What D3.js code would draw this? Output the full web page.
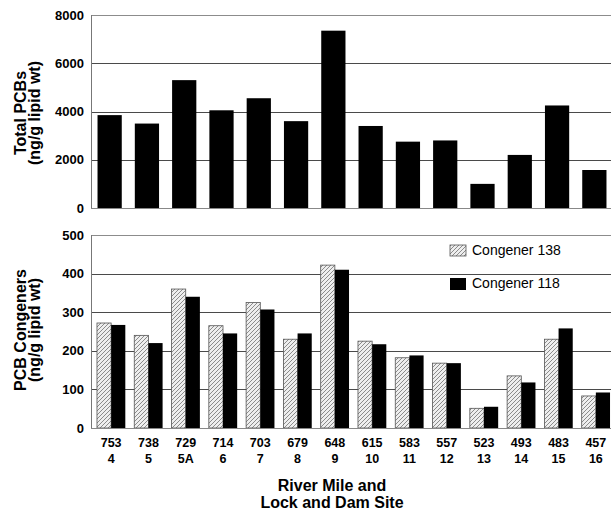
<!DOCTYPE html>
<html><head><meta charset="utf-8">
<script src="https://cdn.jsdelivr.net/npm/d3@7"></script>
<style>body{margin:0;background:#fff} svg{display:block} text{font-family:"Liberation Sans",Arial,sans-serif}</style>
</head><body>
<svg id="c" width="611" height="510"></svg>
<script>
const riverMiles = ["753","738","729","714","703","679","648","615","583","557","523","493","483","457"];
const lockDams = ["4","5","5A","6","7","8","9","10","11","12","13","14","15","16"];
const totalPCBs = [3850,3500,5300,4050,4550,3600,7350,3400,2750,2800,1000,2200,4250,1575];
const congener138 = [272,240,360,265,325,230,422,225,182,168,51,135,230,83];
const congener118 = [267,220,340,245,307,245,410,217,188,168,55,118,258,92];
const seriesNames = ["Congener 138","Congener 118"];
const topTicks = [0,2000,4000,6000,8000];
const bottomTicks = [0,100,200,300,400,500];

const svg = d3.select("#c");
const defs = svg.append("defs");
const pat = defs.append("pattern").attr("id","hatch").attr("patternUnits","userSpaceOnUse")
  .attr("width",4).attr("height",4);
pat.append("rect").attr("width",4).attr("height",4).attr("fill","#eeeeee");
pat.append("path").attr("d","M-1,1 l2,-2 M0,4 l4,-4 M3,5 l2,-2").attr("stroke","#808080").attr("stroke-width",0.9);

const idx = d3.range(riverMiles.length);
const left = 91, right = 613;
const xT = d3.scaleBand().domain(idx).range([left,right]).paddingInner(0.35).paddingOuter(0.175);
const xB = d3.scaleBand().domain(idx).range([left+1.5,right+1.5]).paddingInner(0.24).paddingOuter(0.12);
const xS = d3.scaleBand().domain([0,1]).range([0,xB.bandwidth()]);
const yT = d3.scaleLinear().domain([0,8000]).range([208,15]);
const yB = d3.scaleLinear().domain([0,500]).range([428,235]);

function panel(y, ticks){
  const g = svg.append("g");
  g.selectAll("line.grid").data(ticks.slice(1)).join("line")
    .attr("x1",left).attr("x2",611).attr("y1",d=>Math.round(y(d))+0.5).attr("y2",d=>Math.round(y(d))+0.5)
    .attr("stroke",(d,i)=> i===ticks.length-2 ? "#8c8c8c" : "#4a4a4a").attr("stroke-width",1);
  const ax = svg.append("g").attr("transform",`translate(${left},0)`)
    .call(d3.axisLeft(y).tickValues(ticks).tickSize(0).tickPadding(7).tickFormat(d3.format("d")));
  ax.select(".domain").remove();
  ax.selectAll("text").attr("font-size",13).attr("font-weight","bold").attr("fill","#000")
    .style("font-family",'"Liberation Sans",Arial,sans-serif');
  return g;
}
panel(yT, topTicks);
panel(yB, bottomTicks);

// top bars
svg.append("g").selectAll("rect").data(totalPCBs).join("rect")
  .attr("x",(d,i)=>xT(i)).attr("width",xT.bandwidth())
  .attr("y",d=>yT(d)).attr("height",d=>yT(0)-yT(d)).attr("fill","#000");

// bottom bars
const gB = svg.append("g");
gB.selectAll("rect.c138").data(congener138).join("rect").attr("class","c138")
  .attr("x",(d,i)=>xB(i)+xS(0)).attr("width",xS.bandwidth())
  .attr("y",d=>yB(d)).attr("height",d=>yB(0)-yB(d))
  .attr("fill","url(#hatch)").attr("stroke","#555").attr("stroke-width",0.8);
gB.selectAll("rect.c118").data(congener118).join("rect").attr("class","c118")
  .attr("x",(d,i)=>xB(i)+xS(1)).attr("width",xS.bandwidth())
  .attr("y",d=>yB(d)).attr("height",d=>yB(0)-yB(d)).attr("fill","#000");

// frames (left axis line + baseline)
[[yT,8000],[yB,500]].forEach(([y,top])=>{
  svg.append("line").attr("x1",left+0.5).attr("x2",left+0.5).attr("y1",y(top)).attr("y2",y(0)+0.5)
    .attr("stroke","#777");
  svg.append("line").attr("x1",left).attr("x2",611).attr("y1",Math.round(y(0))+0.5).attr("y2",Math.round(y(0))+0.5)
    .attr("stroke","#888");
});

// x labels
const xl = svg.append("g").selectAll("text").data(idx).join("text")
  .attr("x",i=>xB(i)+xB.bandwidth()/2).attr("text-anchor","middle")
  .attr("font-size",12.5).attr("font-weight","bold");
xl.append("tspan").attr("x",i=>xB(i)+xB.bandwidth()/2).attr("y",447).text(i=>riverMiles[i]);
xl.append("tspan").attr("x",i=>xB(i)+xB.bandwidth()/2).attr("y",463).text(i=>lockDams[i]);

// axis titles
const titleFont = 16;
function ytitle(lines, cy){
  const t = svg.append("text").attr("transform",`translate(0,${cy}) rotate(-90)`)
    .attr("text-anchor","middle").attr("font-size",titleFont).attr("font-weight","bold");
  t.append("tspan").attr("x",0).attr("y",26).text(lines[0]);
  t.append("tspan").attr("x",0).attr("y",40).text(lines[1]);
}
ytitle(["Total PCBs","(ng/g lipid wt)"],113);
ytitle(["PCB Congeners","(ng/g lipid wt)"],330);
const xt = svg.append("text").attr("text-anchor","middle").attr("font-size",titleFont).attr("font-weight","bold");
xt.append("tspan").attr("x",332).attr("y",491).text("River Mile and");
xt.append("tspan").attr("x",332).attr("y",508).text("Lock and Dam Site");

// legend
const lg = svg.append("g");
const legFills = ["url(#hatch)","#000"];
const legY = [245,278];
seriesNames.forEach((n,i)=>{
  lg.append("rect").attr("x",450).attr("y",legY[i]).attr("width",16).attr("height",i===0?11:12)
    .attr("fill",legFills[i]).attr("stroke",i===0?"#555":"none").attr("stroke-width",0.8);
  lg.append("text").attr("x",472).attr("y",legY[i]+10).attr("font-size",14).text(n);
});
</script>
</body></html>
